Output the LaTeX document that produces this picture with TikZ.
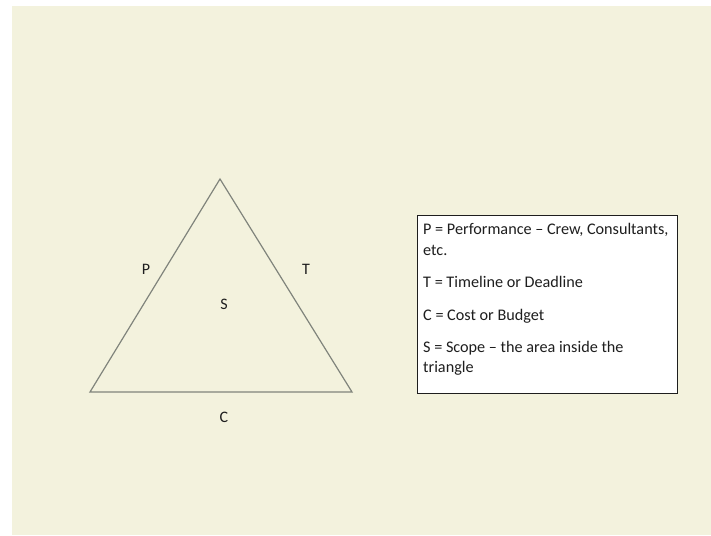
\documentclass[tikz,border=0pt]{standalone}
\usepackage{fontspec}
\setmainfont{Carlito}
\usetikzlibrary{calc}
\definecolor{paperCol}{RGB}{243,242,221}
\definecolor{edgeCol}{RGB}{128,132,124}
\definecolor{inkCol}{RGB}{30,30,30}
\tikzset{
  side/.style={draw=edgeCol,line width=1.2pt},
  lab/.style={font=\fontsize{16}{18}\selectfont,text=inkCol,inner sep=0pt},
  keybox/.style={draw=inkCol,line width=1pt,fill=white,minimum width=260pt,
                 minimum height=178pt,inner sep=0pt},
  keytext/.style={font=\fontsize{16.2}{20.5}\selectfont,text=inkCol,align=left,inner sep=0pt},
}
\begin{document}
\begin{tikzpicture}[x=1pt,y=-1pt]
  \useasboundingbox (0,0) rectangle (711,535);
  \fill[paperCol] (12,6) rectangle (711,535);
  % --- triangle: P, T and C are its sides ---
  \coordinate (apex) at (220,179);
  \coordinate (baseL) at (90,392);
  \coordinate (baseR) at (352,392);
  \draw[side] (baseL) -- (apex) -- (baseR) -- cycle;
  \node[lab] (labP) at (146,269) {P};
  \node[lab] (labT) at (306,269) {T};
  \node[lab] (labS) at (224,304) {S};
  \node[lab] (labC) at (224,417) {C};
  % --- key ---
  \node[keybox,anchor=north west] (key) at (417,215) {};
  \node[keytext,anchor=north west] (keytxt) at ($(key.north west)+(6,8.5)$)
    {P = Performance -- Crew, Consultants,\\ etc.\\[11.8pt]
     T = Timeline or Deadline\\[11.8pt]
     C = Cost or Budget\\[11.8pt]
     S = Scope -- the area inside the\\ triangle};
\end{tikzpicture}
\end{document}
